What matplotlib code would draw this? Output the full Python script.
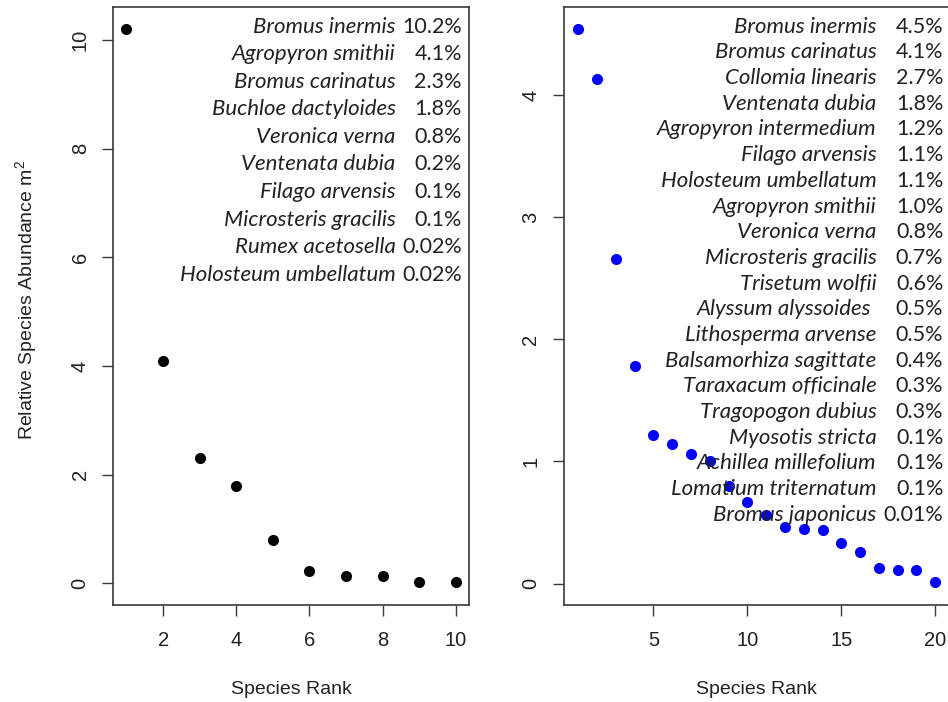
import matplotlib
matplotlib.use("Agg")
import matplotlib.pyplot as plt

# ---- data -------------------------------------------------------------
rank_a = list(range(1, 11))
abund_a = [10.2, 4.1, 2.3, 1.8, 0.8, 0.23, 0.13, 0.13, 0.02, 0.02]
species_a = ["Bromus inermis", "Agropyron smithii", "Bromus carinatus",
             "Buchloe dactyloides", "Veronica verna", "Ventenata dubia",
             "Filago arvensis", "Microsteris gracilis", "Rumex acetosella",
             "Holosteum umbellatum"]
pct_a = ["10.2%", "4.1%", "2.3%", "1.8%", "0.8%", "0.2%", "0.1%", "0.1%",
         "0.02%", "0.02%"]
xticks_a = [2, 4, 6, 8, 10]
yticks_a = [0, 2, 4, 6, 8, 10]

rank_b = list(range(1, 21))
abund_b = [4.54, 4.13, 2.66, 1.78, 1.22, 1.14, 1.06, 1.0, 0.80, 0.67,
           0.56, 0.46, 0.45, 0.44, 0.33, 0.26, 0.13, 0.11, 0.11, 0.01]
species_b = ["Bromus inermis", "Bromus carinatus", "Collomia linearis",
             "Ventenata dubia", "Agropyron intermedium", "Filago arvensis",
             "Holosteum umbellatum", "Agropyron smithii", "Veronica verna",
             "Microsteris gracilis", "Trisetum wolfii", "Alyssum alyssoides ",
             "Lithosperma arvense", "Balsamorhiza sagittate",
             "Taraxacum officinale", "Tragopogon dubius", "Myosotis stricta",
             "Achillea millefolium", "Lomatium triternatum", "Bromus japonicus"]
pct_b = ["4.5%", "4.1%", "2.7%", "1.8%", "1.2%", "1.1%", "1.1%", "1.0%",
         "0.8%", "0.7%", "0.6%", "0.5%", "0.5%", "0.4%", "0.3%", "0.3%",
         "0.1%", "0.1%", "0.1%", "0.01%"]
xticks_b = [5, 10, 15, 20]
yticks_b = [0, 1, 2, 3, 4]

# ---- style ------------------------------------------------------------
plt.rcParams["font.family"] = ["Liberation Sans", "DejaVu Sans"]
plt.rcParams["mathtext.fontset"] = "custom"
plt.rcParams["mathtext.rm"] = "Liberation Sans"
plt.rcParams["mathtext.it"] = "Liberation Sans:italic"

W, H = 948, 702
fig = plt.figure(figsize=(W / 100, H / 100), dpi=100)
fig.patch.set_facecolor("white")

INK = "#222222"
SPINE = "#3a3a3a"
LABEL_FONT = ["Lato", "DejaVu Sans"]


def px_axes(left, right, top, bottom):
    return fig.add_axes([left / W, (H - bottom) / H,
                         (right - left) / W, (bottom - top) / H])


def r_limits(vals):
    lo, hi = min(vals), max(vals)
    pad = 0.04 * (hi - lo)
    return lo - pad, hi + pad


def style_axes(ax, xt, yt):
    ax.set_xticks(xt)
    ax.set_yticks(yt)
    ax.tick_params(direction="out", length=8, width=1.0, color=SPINE,
                   labelsize=14.5, labelcolor=INK)
    ax.tick_params(axis="x", pad=11)
    ax.tick_params(axis="y", pad=9, labelrotation=90)
    for lbl in ax.get_yticklabels():
        lbl.set_va("center")
    for s in ax.spines.values():
        s.set_color(SPINE)
        s.set_linewidth(1.2)
    ax.set_xlabel("Species Rank", fontsize=14, color=INK, va="center")
    ax.xaxis.set_label_coords(0.5, -0.143)


def species_table(ax, names, pcts, x_name, x_pct, y0, dy):
    for i, (n, p) in enumerate(zip(names, pcts)):
        y = y0 - i * dy
        ax.text(x_name, y, n, transform=ax.transAxes, ha="right",
                va="center", fontsize=16, style="italic",
                family=LABEL_FONT, color=INK)
        ax.text(x_pct, y, p, transform=ax.transAxes, ha="right",
                va="center", fontsize=15.5, family=LABEL_FONT, color=INK)


# ---- left panel -------------------------------------------------------
ax1 = px_axes(113.3, 469, 7, 604.5)
ax1.scatter(rank_a, abund_a, s=64, color="black", zorder=3, linewidths=0)
ax1.set_xlim(r_limits(rank_a))
ax1.set_ylim(r_limits(abund_a))
style_axes(ax1, xticks_a, yticks_a)
ax1.set_ylabel("Relative Species Abundance m$^2$", fontsize=14, color=INK,
               va="center")
ax1.yaxis.set_label_coords(-0.245, 0.51)
species_table(ax1, species_a, pct_a, 0.794, 0.980, 0.967, 0.0461)

# ---- right panel ------------------------------------------------------
ax2 = px_axes(564, 949.5, 7, 604.5)
ax2.scatter(rank_b, abund_b, s=64, color="blue", zorder=3, linewidths=0)
ax2.set_xlim(r_limits(rank_b))
ax2.set_ylim(r_limits(abund_b))
style_axes(ax2, xticks_b, yticks_b)
species_table(ax2, species_b, pct_b, 0.811, 0.984, 0.967, 0.0430)

fig.savefig("out.png", dpi=100, facecolor="white")
